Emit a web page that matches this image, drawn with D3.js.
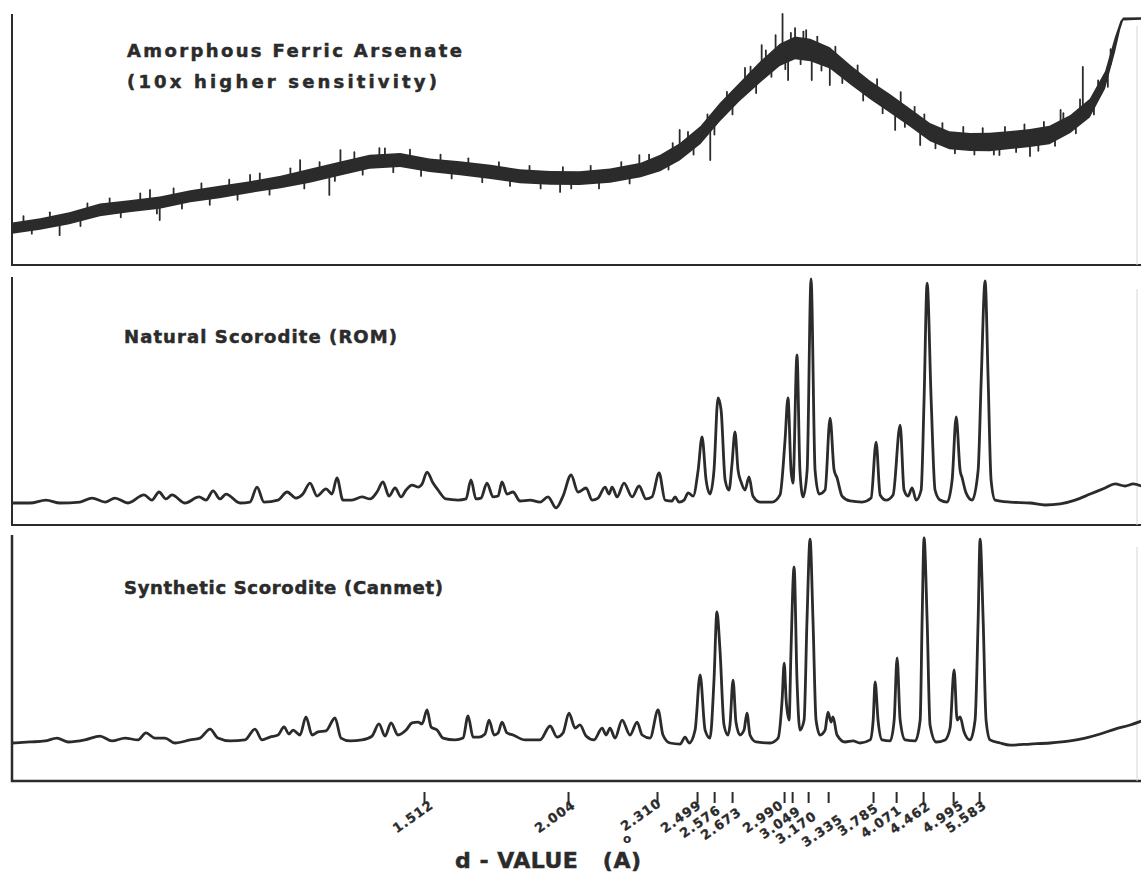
<!DOCTYPE html>
<html>
<head>
<meta charset="utf-8">
<script src="https://cdn.jsdelivr.net/npm/d3@7"></script>
<style>
  body { margin: 0; background: #fff; }
  svg text { font-family: "DejaVu Sans", Lato, sans-serif; font-weight: bold; fill: #2b2b2b; }
</style>
</head>
<body>
<div id="chart"></div>
<script>
// x values are 2-theta in degrees (Cu K-alpha)
// intensities are relative, 0..100 per panel

// amorphous trace is a noisy band: low / high edge of the band
const amorphousAngle = [85.4, 83.4, 81.3, 79.1, 77.0, 74.8, 72.6, 70.5, 68.3, 66.1, 64.0, 61.8, 59.7, 57.5, 55.4, 53.2, 51.0, 48.9, 46.7, 44.6, 42.4, 40.2, 38.8, 37.4, 35.9, 34.5, 33.1, 31.6, 30.2, 29.1, 28.0, 26.6, 25.1, 23.7, 22.3, 20.8, 19.4, 18.0, 16.5, 15.1, 13.6, 12.2, 10.8, 9.3, 7.9, 6.8, 6.1, 5.7, 5.5, 4.2];
const amorphousLow = [12.5, 14.0, 16.2, 19.4, 21.0, 22.4, 25.0, 26.6, 28.7, 30.6, 32.8, 35.7, 38.3, 39.0, 37.1, 35.8, 34.3, 32.6, 32.0, 31.9, 32.8, 35.0, 37.4, 41.6, 48.2, 57.3, 65.2, 72.7, 79.3, 82.0, 81.2, 78.3, 71.8, 66.0, 60.8, 55.0, 49.3, 46.1, 45.4, 45.3, 46.2, 47.0, 48.1, 52.6, 58.8, 70.2, 84.5, 94.0, 97.4, 97.7];
const amorphousHigh = [16.9, 18.6, 21.0, 24.5, 25.8, 27.3, 29.8, 31.6, 33.4, 35.6, 38.3, 41.2, 43.9, 44.6, 42.4, 41.3, 39.9, 38.1, 37.5, 37.4, 38.4, 40.7, 43.9, 48.5, 55.4, 64.6, 72.6, 81.2, 88.1, 91.0, 90.1, 86.8, 79.6, 73.4, 68.2, 62.3, 56.6, 53.3, 52.6, 52.7, 53.4, 54.2, 55.5, 59.8, 66.2, 77.2, 90.7, 97.2, 98.6, 98.7];
// noise spikes sticking out of the band: [angle, from, to]
const amorphousSpikes = [
  [84.6, 15.5, 19.5], [84.0, 16.0, 12.5], [82.7, 17.0, 21.0], [82.0, 17.5, 11.9], [80.5, 19.5, 15.5],
  [80.0, 20.5, 24.5], [78.4, 22.5, 26.5], [77.6, 23.0, 19.0], [76.2, 24.0, 28.5], [75.5, 24.5, 29.9],
  [75.0, 24.5, 20.5], [74.8, 24.5, 17.9], [73.8, 26.0, 30.5], [73.2, 26.5, 22.5], [71.8, 28.0, 32.5],
  [71.2, 28.5, 24.0], [69.8, 29.8, 34.0], [69.2, 30.3, 26.0], [68.3, 31.1, 35.9], [67.6, 31.7, 36.5],
  [66.9, 32.4, 28.0], [65.4, 34.0, 38.5], [64.7, 35.0, 41.8], [64.4, 35.0, 30.5], [63.3, 36.5, 41.0],
  [62.6, 37.0, 27.9], [62.2, 38.0, 33.5], [61.8, 38.6, 45.8], [60.8, 40.0, 45.0], [60.2, 40.5, 36.0],
  [59.0, 41.2, 46.6], [58.6, 41.5, 46.5], [58.0, 41.7, 37.0], [56.8, 41.2, 46.0], [56.0, 40.5, 35.5],
  [54.6, 39.3, 44.0], [53.8, 39.0, 34.5], [52.6, 38.2, 42.5], [51.6, 37.5, 33.0], [50.4, 36.7, 41.0],
  [49.6, 36.0, 31.5], [48.2, 35.2, 39.5], [47.4, 35.0, 30.5], [46.0, 34.7, 29.1], [45.8, 34.7, 39.0],
  [45.2, 34.7, 30.5], [43.8, 35.0, 39.5], [43.2, 35.0, 30.5], [41.6, 36.3, 41.0], [41.0, 37.0, 32.5],
  [40.3, 37.8, 43.8], [39.6, 39.0, 44.0], [38.2, 42.5, 38.0], [37.9, 43.0, 48.5], [37.4, 45.0, 53.8],
  [36.8, 47.5, 53.0], [36.4, 49.5, 44.0], [35.4, 54.5, 60.0], [35.2, 55.0, 41.8], [34.9, 58.0, 52.0],
  [34.0, 63.5, 69.0], [33.6, 66.0, 60.0], [32.7, 71.0, 78.5], [32.3, 73.0, 79.0], [31.9, 75.0, 68.5],
  [31.5, 78.0, 87.6], [31.2, 79.0, 85.5], [30.8, 81.0, 75.0], [30.5, 83.0, 91.6], [30.0, 85.0, 100],
  [29.8, 85.0, 78.0], [29.6, 85.5, 73.7], [29.4, 86.0, 92.5], [29.1, 86.5, 94.4], [28.7, 86.3, 80.0],
  [28.5, 86.0, 93.0], [28.3, 86.0, 93.6], [27.9, 85.5, 73.7], [27.5, 84.5, 91.0], [27.2, 84.0, 77.5],
  [26.6, 82.5, 71.7], [26.2, 81.0, 87.0], [25.7, 78.5, 72.5], [24.6, 73.5, 79.5], [24.2, 71.8, 65.5],
  [23.2, 68.0, 74.0], [22.8, 66.5, 60.5], [21.9, 63.0, 53.8], [21.5, 62.0, 68.9], [21.2, 60.5, 55.0],
  [20.5, 57.5, 63.0], [20.1, 56.0, 47.8], [19.8, 54.5, 60.0], [19.0, 52.0, 46.5], [18.5, 51.0, 56.5],
  [17.6, 49.6, 44.5], [17.0, 49.3, 55.0], [16.2, 49.0, 44.0], [15.6, 49.0, 54.5], [14.8, 49.2, 44.0],
  [14.4, 49.3, 43.8], [14.0, 49.5, 55.0], [13.2, 50.0, 45.0], [12.6, 50.4, 56.0], [12.2, 50.6, 43.4],
  [11.6, 51.0, 45.5], [11.2, 51.4, 57.0], [10.4, 53.0, 47.5], [10.0, 54.5, 61.8], [9.8, 54.5, 60.5],
  [8.9, 58.0, 52.5], [8.6, 59.5, 66.0], [8.4, 61.0, 78.9], [7.6, 65.0, 60.0], [7.3, 67.0, 73.5],
  [6.6, 76.0, 71.0], [6.4, 80.0, 86.0]
];

const naturalPattern = [
  [85.43, 0], [84.13, 0], [82.98, 1.3], [81.97, 0], [80.54, 0.4], [79.67, 2.2], [78.73, 0.4], [78.02, 2.2],
  [77.08, 0], [75.93, 3.6], [75.36, 1.3], [74.85, 4.9], [74.35, 1.8], [73.92, 3.6], [72.98, 0], [71.97, 2.7],
  [71.47, 1.3], [70.96, 5.4], [70.46, 1.8], [70.03, 4.0], [69.02, 0], [68.31, 0.4], [67.80, 7.1], [67.30, 0.4],
  [66.29, 1.3], [65.64, 4.9], [65.00, 2.2], [64.50, 4.0], [63.99, 8.9], [63.48, 3.1], [62.84, 6.3], [62.41, 4.0],
  [62.05, 11.2], [61.62, 1.3], [60.97, 1.3], [60.25, 2.7], [59.67, 1.8], [59.17, 4.9], [58.74, 9.4], [58.31, 3.1],
  [57.87, 6.7], [57.44, 2.7], [57.08, 5.8], [56.65, 8.0], [56.22, 7.1], [55.93, 8.5], [55.57, 13.8], [55.14, 8.9],
  [54.78, 5.8], [54.21, 1.8], [53.34, 1.3], [52.77, 1.8], [52.41, 10.3], [52.05, 1.8], [51.69, 2.2], [51.26, 8.9],
  [50.82, 2.7], [50.46, 3.1], [50.18, 9.4], [49.82, 4.0], [49.39, 4.9], [48.88, 0.9], [48.16, 1.3], [47.44, 0.4],
  [46.87, 2.7], [46.29, -2.2], [45.79, 3.1], [45.21, 12.5], [44.71, 4.9], [44.13, 6.7], [43.70, 1.3], [43.27, 2.2],
  [42.77, 7.1], [42.48, 4.0], [42.26, 7.1], [41.90, 2.7], [41.40, 8.9], [40.82, 2.7], [40.32, 7.6], [39.82, 1.8],
  [39.39, 2.7], [38.88, 13.4], [38.45, 1.3], [37.95, 0.9], [37.73, 2.7], [37.44, 0.4], [37.08, 1.3], [36.79, 4.5],
  [36.43, 3.1], [36.07, 14.7], [35.79, 29.5], [35.50, 10.3], [35.22, 4.0], [34.93, 14.7], [34.64, 46.9], [34.42, 41.5],
  [34.13, 10.3], [33.85, 5.8], [33.64, 17.0], [33.42, 31.7], [33.20, 14.7], [32.98, 9.4], [32.70, 5.8], [32.41, 11.6],
  [32.13, 3.1], [31.62, 0.4], [30.75, 0.4], [30.18, 3.6], [29.82, 28.1], [29.61, 46.9], [29.39, 14.7], [29.25, 8.9],
  [28.96, 66.1], [28.75, 14.7], [28.52, 2.7], [28.23, 14.7], [27.95, 100], [27.66, 14.7], [27.37, 4.0], [26.94, 5.8],
  [26.58, 37.9], [26.29, 14.7], [26.08, 11.2], [25.72, 3.1], [25.14, 0.9], [24.28, 0.4], [23.63, 2.2], [23.27, 27.2],
  [22.98, 3.6], [22.55, 1.3], [22.05, 3.6], [21.54, 34.8], [21.26, 5.8], [20.97, 3.1], [20.68, 6.7], [20.39, 1.3],
  [20.03, 5.8], [19.82, 46], [19.60, 98.2], [19.31, 46], [19.03, 5.8], [18.67, 1.3], [18.16, 0.4], [17.80, 10.3],
  [17.51, 38.4], [17.23, 14.7], [17.08, 11.2], [16.80, 4.5], [16.36, 1.3], [15.93, 14.7], [15.71, 54.9], [15.43, 99.1],
  [15.21, 54.9], [15.00, 10.3], [14.71, 1.3], [13.63, 0.4], [12.19, 0], [11.11, -0.9], [10.03, -0.4], [8.95, 1.3],
  [7.87, 4.0], [6.80, 6.7], [6.08, 8.5], [5.36, 7.6], [4.78, 8.5], [4.20, 7.6]
];

const syntheticPattern = [
  [85.43, 0], [84.13, 0.5], [83.05, 1.0], [82.19, 2.4], [81.40, 0.5], [80.18, 1.5], [79.10, 3.4], [78.23, 1.0],
  [77.30, 2.4], [76.36, 1.5], [75.79, 4.9], [75.14, 2.4], [74.42, 2.4], [73.70, 0], [72.62, 1.5], [71.90, 2.4],
  [71.18, 6.8], [70.61, 2.4], [69.74, 1.0], [68.67, 1.5], [67.95, 6.8], [67.44, 1.5], [66.87, 2.9], [66.29, 3.9],
  [65.86, 7.8], [65.50, 4.4], [65.21, 6.3], [64.71, 3.9], [64.28, 12.7], [63.84, 3.9], [63.41, 5.4], [62.84, 5.9],
  [62.19, 12.2], [61.76, 2.4], [61.11, 1.0], [60.25, 1.5], [59.53, 3.4], [59.03, 9.3], [58.59, 3.4], [58.16, 9.8],
  [57.66, 3.9], [57.08, 6.3], [56.65, 9.8], [56.22, 10.2], [55.93, 9.3], [55.57, 16.1], [55.28, 7.8], [54.85, 6.3],
  [54.42, 2.4], [53.56, 1.5], [52.98, 2.4], [52.62, 13.2], [52.26, 2.9], [51.83, 2.9], [51.40, 4.4], [51.11, 11.2],
  [50.75, 3.9], [50.46, 4.9], [50.18, 10.2], [49.82, 4.9], [49.39, 3.9], [48.52, 1.5], [47.44, 1.5], [46.72, 8.3],
  [46.22, 2.9], [45.79, 4.9], [45.36, 14.6], [44.92, 7.3], [44.57, 8.8], [44.13, 3.4], [43.56, 1.5], [42.98, 7.3],
  [42.69, 3.9], [42.41, 7.3], [42.05, 2.4], [41.54, 11.2], [40.97, 3.9], [40.46, 10.2], [40.10, 3.9], [39.53, 2.4],
  [38.95, 16.1], [38.60, 3.9], [38.09, 0], [37.37, -0.5], [37.01, 2.9], [36.72, 0], [36.29, 6.3], [35.93, 33.2],
  [35.57, 6.3], [35.22, 2.4], [34.93, 30.7], [34.72, 63.9], [34.50, 45.4], [34.21, 8.8], [33.92, 3.9], [33.78, 8.8],
  [33.56, 30.7], [33.35, 10.2], [33.06, 3.9], [32.77, 6.3], [32.56, 14.6], [32.34, 3.9], [31.90, 0.5], [30.90, 0],
  [30.32, 2.4], [30.03, 21], [29.88, 39], [29.74, 21], [29.53, 11.2], [29.39, 45.4], [29.17, 85.9], [28.96, 30.7],
  [28.75, 6.3], [28.45, 11.2], [28.24, 60], [28.02, 99.5], [27.81, 60], [27.59, 11.2], [27.30, 3.9], [26.94, 6.3],
  [26.73, 15.1], [26.51, 10.2], [26.37, 12.7], [26.08, 3.9], [25.50, 0.5], [24.93, 1.0], [24.42, 0], [23.70, 1.5],
  [23.48, 11.2], [23.34, 29.8], [23.13, 11.2], [22.84, 1.5], [22.26, 1.0], [21.97, 11.2], [21.76, 41.5], [21.54, 11.2],
  [21.18, 1.5], [20.46, 1.0], [20.10, 11.2], [19.96, 60], [19.82, 100], [19.60, 60], [19.39, 8.8], [18.95, 0.5],
  [18.31, 1.5], [17.95, 7.3], [17.66, 35.6], [17.44, 11.2], [17.23, 12.7], [16.94, 5.4], [16.51, 1.5], [16.15, 11.2],
  [15.93, 60], [15.79, 99.5], [15.57, 60], [15.36, 11.2], [15.07, 1.5], [14.35, 0], [13.63, -1.0], [12.19, -0.5],
  [10.75, 0], [9.31, 1.0], [8.23, 2.4], [7.15, 4.4], [6.08, 6.8], [5.00, 8.8], [4.20, 10.7]
];

// d-value labels under the bottom axis and the 2-theta where each mark sits
const tickLabels = ["1.512", "2.004", "2.310", "2.499", "2.576", "2.673", "2.990", "3.049", "3.170", "3.335", "3.785", "4.071", "4.462", "4.995", "5.583"];
const tickAngles = [55.79, 45.43, 39.03, 36.15, 34.92, 33.63, 29.89, 29.31, 28.16, 26.72, 23.49, 21.83, 19.89, 17.73, 15.86];

const panelTitles = [
  ["Amorphous Ferric Arsenate", "(10x higher sensitivity)"],
  ["Natural Scorodite (ROM)"],
  ["Synthetic Scorodite (Canmet)"]
];

const width = 1141, height = 873;
const ink = "#2b2b2b";
const axisLeft = 12, axisRight = 1141;

const x = d3.scaleLinear().domain([86, 4]).range([4, 1144]);

const panels = [
  { top: 14, bottom: 265, y: d3.scaleLinear().domain([0, 100]).range([265, 14]),
    titleX: 127, titleY: [57, 88], titleLen: [335, 310] },
  { top: 277, bottom: 525, y: d3.scaleLinear().domain([0, 100]).range([503, 279]),
    titleX: 124, titleY: [343], titleLen: [273] },
  { top: 535, bottom: 781, y: d3.scaleLinear().domain([0, 100]).range([743, 538]),
    titleX: 124, titleY: [594], titleLen: [319] }
];

// crowded labels are pushed down / sideways so they stagger like the print
const labelNudge = [[2, 0], [0, 0], [-3, -2], [-3, 0], [-1, 5], [2, 7], [-8, 0], [1, 6], [1, 11], [7, 14], [-2, 3], [-2, 5], [0, 1], [3, 0], [0, 0]];

const svg = d3.select("#chart").append("svg")
  .attr("width", width)
  .attr("height", height)
  .attr("viewBox", [0, 0, width, height]);

// frames: left edge and bottom edge of each panel
panels.forEach((p, i) => {
  svg.append("path")
    .attr("d", `M${axisLeft},${p.top}V${p.bottom}H${axisRight}`)
    .attr("fill", "none")
    .attr("stroke", ink)
    .attr("stroke-width", i == 2 ? 2.5 : 2);

  // faint right edge
  svg.append("line")
    .attr("x1", 1137).attr("x2", 1137)
    .attr("y1", p.top + 12).attr("y2", p.bottom)
    .attr("stroke", "#d6d6d6")
    .attr("stroke-width", 1);

  panelTitles[i].forEach((t, j) => {
    svg.append("text")
      .attr("x", p.titleX)
      .attr("y", p.titleY[j])
      .attr("textLength", p.titleLen[j])
      .attr("lengthAdjust", "spacing")
      .style("font-size", "18px")
      .style("stroke", ink)
      .style("stroke-width", 0.5)
      .text(t);
  });
});

// amorphous ferric arsenate: band + spikes
const y1 = panels[0].y;
const band = amorphousAngle.map((a, i) => [a, amorphousLow[i], amorphousHigh[i]]);
svg.append("path")
  .attr("d", d3.area()
    .x((d) => x(d[0]))
    .y0((d) => y1(d[1]))
    .y1((d) => y1(d[2]))(band))
  .attr("fill", ink);

svg.append("g")
  .selectAll("line")
  .data(amorphousSpikes)
  .join("line")
  .attr("x1", (d) => x(d[0]))
  .attr("x2", (d) => x(d[0]))
  .attr("y1", (d) => y1(d[1]))
  .attr("y2", (d) => y1(d[2]))
  .attr("stroke", ink)
  .attr("stroke-width", 1.8)
  .attr("stroke-linecap", "round");

// the two scorodite patterns
[[naturalPattern, panels[1]], [syntheticPattern, panels[2]]].forEach(([data, p]) => {
  let line = d3.line()
    .curve(d3.curveMonotoneX)
    .x((d) => x(d[0]))
    .y((d) => p.y(d[1]));
  svg.append("path")
    .attr("d", line(data))
    .attr("fill", "none")
    .attr("stroke", ink)
    .attr("stroke-width", 2.8)
    .attr("stroke-linejoin", "round");
});

// d-value marks under the bottom panel
const ticks = svg.append("g")
  .attr("transform", "translate(0, 792)")
  .call(d3.axisBottom(x)
    .tickValues(tickAngles)
    .tickFormat((d, i) => tickLabels[i])
    .tickSize(11));

ticks.select(".domain").remove();
ticks.selectAll(".tick line")
  .attr("stroke", ink)
  .attr("stroke-width", 2);
ticks.selectAll(".tick text")
  .attr("y", 0)
  .attr("dy", 0)
  .attr("text-anchor", "end")
  .attr("transform", (d, i) => `translate(${8 + labelNudge[i][0]}, ${15 + labelNudge[i][1]}) rotate(-35)`)
  .attr("font-size", null)
  .attr("font-family", null)
  .style("font-size", "13px")
  .style("letter-spacing", "1px")
  .style("stroke", ink)
  .style("stroke-width", 0.3)
  .attr("fill", ink);

svg.append("text")
  .attr("x", 455)
  .attr("y", 868)
  .attr("textLength", 186)
  .attr("lengthAdjust", "spacing")
  .style("font-size", "22px")
  .style("stroke", ink)
  .style("stroke-width", 0.5)
  .text("d - VALUE\u00a0\u00a0\u00a0(A)");

// angstrom ring, sitting loose under the 2.310 label
svg.append("text")
  .attr("x", 623)
  .attr("y", 843)
  .style("font-size", "12px")
  .text("o");
</script>
</body>
</html>
